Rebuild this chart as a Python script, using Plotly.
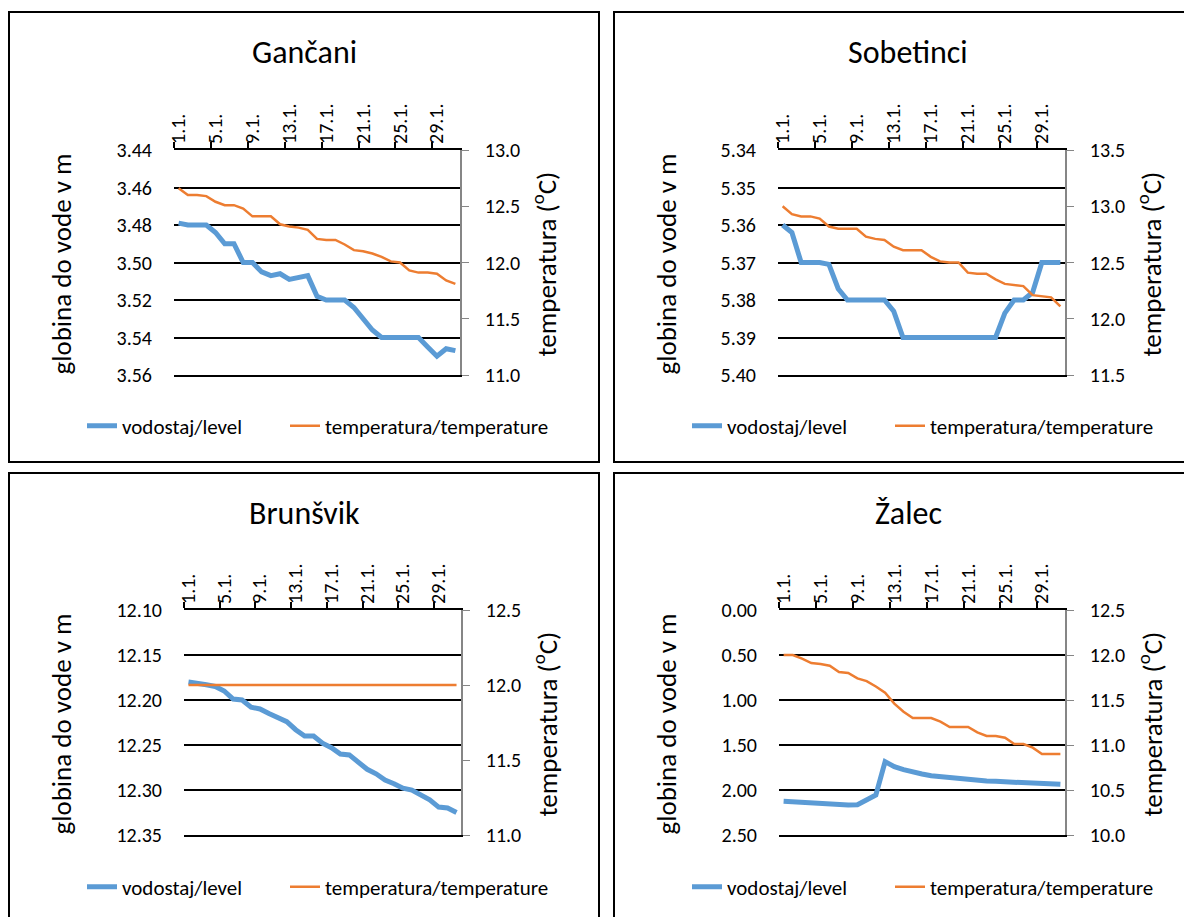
import plotly.graph_objects as go

# January days on the category axis
days = [f"{d}.1." for d in range(1, 32)]

# Gančani
ganc_level = [3.479, 3.480, 3.480, 3.480, 3.484, 3.490, 3.490, 3.500, 3.500, 3.505,
              3.507, 3.506, 3.509, 3.508, 3.507, 3.518, 3.520, 3.520, 3.520, 3.524,
              3.530, 3.536, 3.540, 3.540, 3.540, 3.540, 3.540, 3.545, 3.550, 3.546,
              3.547]
ganc_temp = [12.66, 12.60, 12.60, 12.59, 12.54, 12.51, 12.51, 12.48, 12.41, 12.41,
             12.41, 12.34, 12.32, 12.31, 12.29, 12.21, 12.20, 12.20, 12.16, 12.11,
             12.10, 12.08, 12.05, 12.01, 12.00, 11.93, 11.91, 11.91, 11.90, 11.84,
             11.81]

# Sobetinci
sob_level = [5.360, 5.362, 5.370, 5.370, 5.370, 5.3705, 5.377, 5.380, 5.380, 5.380,
             5.380, 5.380, 5.383, 5.390, 5.390, 5.390, 5.390, 5.390, 5.390, 5.390,
             5.390, 5.390, 5.390, 5.390, 5.3835, 5.380, 5.380, 5.378, 5.370, 5.370,
             5.370]
sob_temp = [13.00, 12.93, 12.91, 12.91, 12.89, 12.82, 12.80, 12.80, 12.80, 12.73,
            12.71, 12.70, 12.64, 12.61, 12.61, 12.61, 12.55, 12.51, 12.50, 12.50,
            12.41, 12.40, 12.40, 12.35, 12.31, 12.30, 12.29, 12.21, 12.20, 12.19,
            12.11]

# Brunšvik
brun_level = [12.180, 12.181, 12.183, 12.185, 12.190, 12.199, 12.200, 12.208, 12.210, 12.215,
              12.220, 12.224, 12.233, 12.240, 12.240, 12.248, 12.253, 12.260, 12.261, 12.269,
              12.277, 12.282, 12.289, 12.293, 12.298, 12.300, 12.305, 12.311, 12.319, 12.320,
              12.325]
brun_temp = [12.0, 12.0, 12.0, 12.0, 12.0, 12.0, 12.0, 12.0, 12.0, 12.0,
             12.0, 12.0, 12.0, 12.0, 12.0, 12.0, 12.0, 12.0, 12.0, 12.0,
             12.0, 12.0, 12.0, 12.0, 12.0, 12.0, 12.0, 12.0, 12.0, 12.0,
             12.0]

# Žalec
zal_level = [2.126, 2.133, 2.140, 2.148, 2.152, 2.156, 2.163, 2.167, 2.163, 2.110,
             2.056, 1.685, 1.741, 1.774, 1.804, 1.822, 1.841, 1.852, 1.867, 1.878,
             1.885, 1.893, 1.900, 1.904, 1.907, 1.911, 1.915, 1.919, 1.926, 1.930,
             1.937]
zal_temp = [12.00, 12.00, 11.96, 11.91, 11.90, 11.88, 11.81, 11.80, 11.74, 11.71,
            11.65, 11.58, 11.46, 11.37, 11.30, 11.30, 11.30, 11.26, 11.20, 11.20,
            11.20, 11.14, 11.10, 11.10, 11.08, 11.01, 11.01, 10.97, 10.90, 10.90,
            10.90]

stations = ["Gančani", "Sobetinci", "Brunšvik", "Žalec"]
levels = [ganc_level, sob_level, brun_level, zal_level]
temps = [ganc_temp, sob_temp, brun_temp, zal_temp]

W, H = 1192, 917
OFF = 8  # the page body margin shifts the figure by this much
BLUE = "#5B9BD5"
ORANGE = "#ED7D31"
FONT = "Calibri, Carlito, Lato, sans-serif"


def px(x):
    return (x - OFF) / W


def py(y):
    return 1 - (y - OFF) / H


# layout of each panel in page pixels: plot x0, x1, y0, y1, box, centre x
panels = [
    dict(x0=174, x1=460, y0=150, y1=375, box=(9, 12, 599, 462), cx=304,
         lrange=[3.56, 3.44], ldtick=0.02, rrange=[11.0, 13.0]),
    dict(x0=778, x1=1065, y0=150, y1=375, box=(614, 12, 1204, 462), cx=908,
         lrange=[5.40, 5.34], ldtick=0.01, rrange=[11.5, 13.5]),
    dict(x0=184, x1=461, y0=610, y1=835, box=(9, 473, 599, 940), cx=304,
         lrange=[12.35, 12.10], ldtick=0.05, rrange=[11.0, 12.5]),
    dict(x0=779, x1=1065, y0=610, y1=835, box=(614, 473, 1204, 940), cx=908,
         lrange=[2.5, 0.0], ldtick=0.5, rrange=[10.0, 12.5]),
]

fig = go.Figure()
layout = dict(template="none", width=W, height=H, showlegend=True,
              margin=dict(l=0, r=0, t=0, b=0, autoexpand=False),
              plot_bgcolor="white", paper_bgcolor="white",
              font=dict(family=FONT, size=20, color="black"),
              shapes=[], annotations=[])

for k, p in enumerate(panels):
    n = k + 1
    xa = "x" if n == 1 else f"x{n}"
    yl = f"y{2 * k + 1}" if k > 0 else "y"
    yr = f"y{2 * k + 2}"
    leg_a = "legend" if k == 0 else f"legend{2 * k + 1}"
    leg_b = f"legend{2 * k + 2}"

    fig.add_trace(go.Scatter(x=days, y=levels[k], mode="lines", name="vodostaj/level",
                             line=dict(color=BLUE, width=5), xaxis=xa, yaxis=yl,
                             legend=leg_a, showlegend=True))
    fig.add_trace(go.Scatter(x=days, y=temps[k], mode="lines",
                             name="temperatura/temperature",
                             line=dict(color=ORANGE, width=2.5), xaxis=xa, yaxis=yr,
                             legend=leg_b, showlegend=True))

    xkey = "xaxis" if n == 1 else f"xaxis{n}"
    ylkey = "yaxis" if k == 0 else f"yaxis{2 * k + 1}"
    yrkey = f"yaxis{2 * k + 2}"

    layout[xkey] = dict(type="category", domain=[px(p["x0"]), px(p["x1"])],
                        anchor=yl, side="top", range=[-0.5, 30.5], automargin=False,
                        tickmode="linear", tick0=0, dtick=4, tickangle=-90,
                        tickson="boundaries", ticks="outside", ticklen=6,
                        tickcolor="black", tickwidth=1.5,
                        showline=True, linecolor="black", linewidth=2, mirror=True,
                        showgrid=False, tickfont=dict(size=20))
    layout[ylkey] = dict(domain=[py(p["y1"]), py(p["y0"])], anchor=xa,
                         range=p["lrange"], dtick=p["ldtick"], tick0=0,
                         tickformat=".2f", showgrid=True, gridcolor="black",
                         gridwidth=1.5, zeroline=False, showline=False, ticks="",
                         automargin=False, ticklabelstandoff=21,
                         tickfont=dict(size=20))
    layout[yrkey] = dict(overlaying=yl, side="right", anchor=xa,
                         range=p["rrange"], dtick=0.5, tick0=0, tickformat=".1f",
                         showgrid=False, zeroline=False, showline=True,
                         linecolor="#868686", linewidth=1.5, ticks="outside",
                         tickcolor="#868686", ticklen=7, ticklabelstandoff=12,
                         automargin=False, tickfont=dict(size=20))

    bx0, by0, bx1, by1 = p["box"]
    layout["shapes"].append(dict(type="rect", xref="paper", yref="paper",
                                 x0=px(bx0), x1=px(bx1), y0=py(by1), y1=py(by0),
                                 line=dict(color="black", width=2)))

    ymid = (p["y0"] + p["y1"]) / 2 + 2
    layout["annotations"] += [
        dict(text=stations[k], x=px(p["cx"]), y=py(by0 + 40), xref="paper",
             yref="paper", xanchor="center", yanchor="middle", showarrow=False,
             font=dict(size=32)),
        dict(text="globina do vode v m", x=px(bx0 + 52), y=py(ymid), xref="paper",
             yref="paper", xanchor="center", yanchor="middle", showarrow=False,
             textangle=-90, font=dict(size=27)),
        dict(text="temperatura (<sup>o</sup>C)", x=px(bx0 + 536), y=py(ymid),
             xref="paper", yref="paper", xanchor="center", yanchor="middle",
             showarrow=False, textangle=-90, font=dict(size=27)),
    ]

    for key, tx in ((leg_a, bx0 + 73), (leg_b, bx0 + 276)):
        layout[key] = dict(orientation="h", x=px(tx), y=py(by0 + 414),
                           xanchor="left", yanchor="middle", bgcolor="rgba(0,0,0,0)",
                           borderwidth=0, font=dict(size=21))

fig.update_layout(**layout)
fig.write_html("out.html")
